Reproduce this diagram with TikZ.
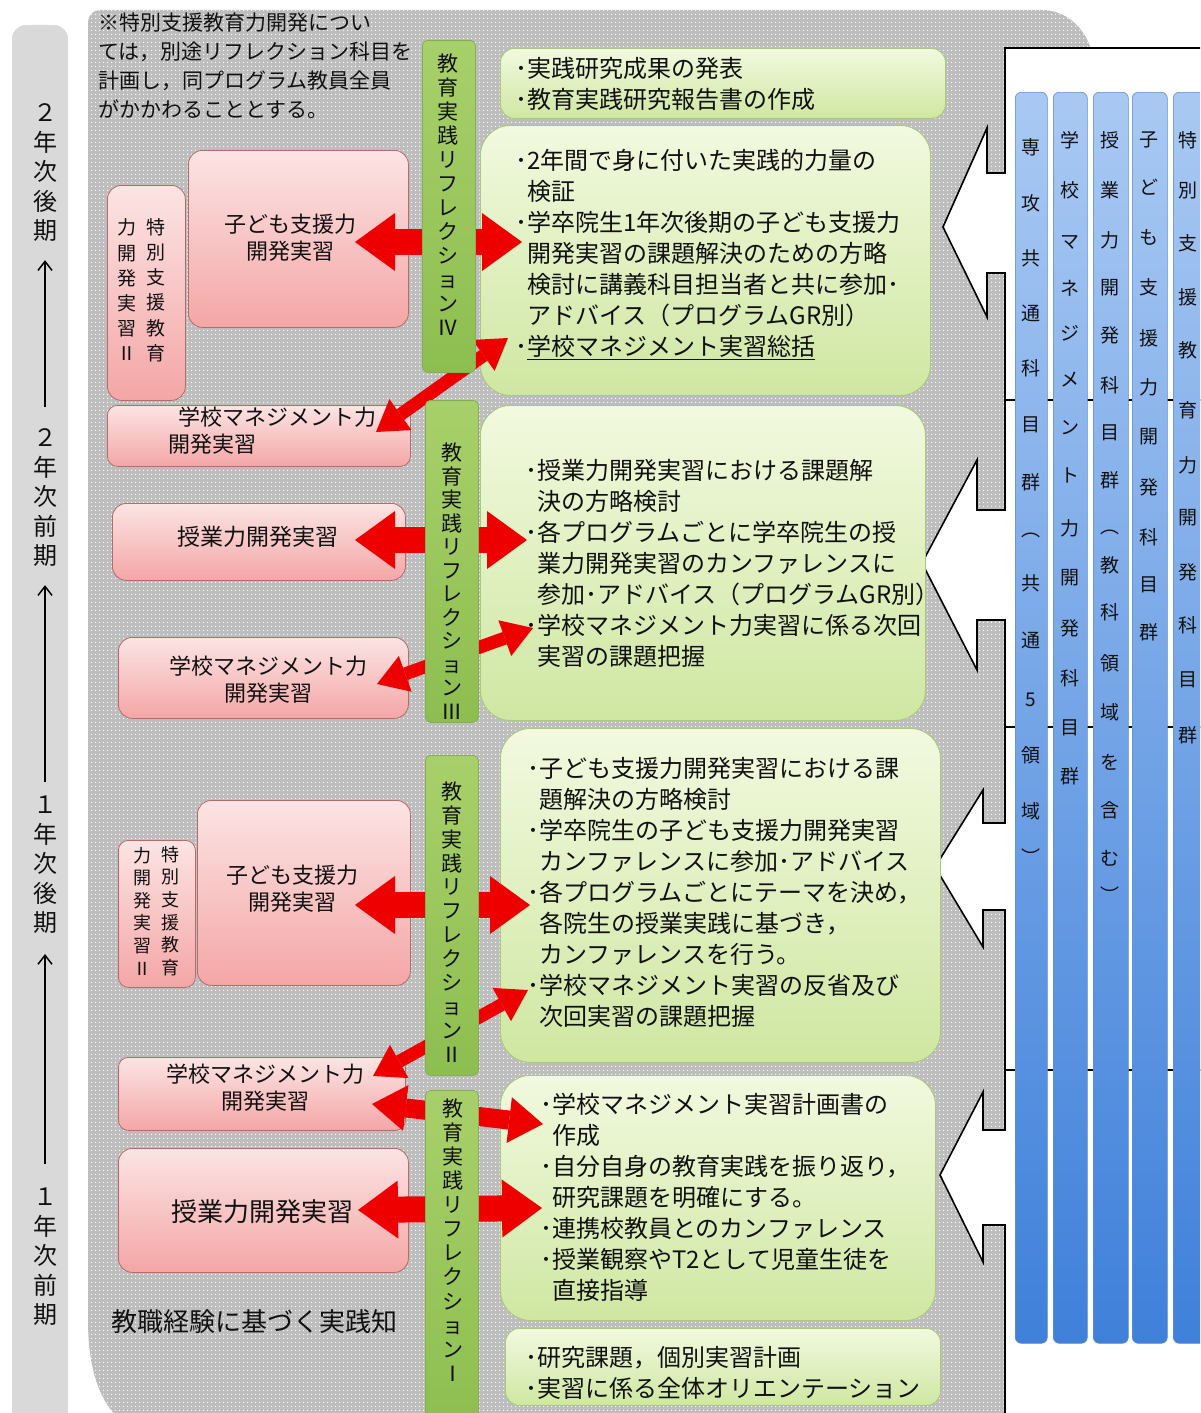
\documentclass[tikz,border=0pt]{standalone}
\usepackage{fontspec}
\setmainfont{Noto Sans CJK JP}
\usetikzlibrary{arrows.meta,patterns.meta}
\definecolor{regionGray}{HTML}{BDBDBD}
\definecolor{tlGray}{HTML}{D9D9D9}
\definecolor{pinkT}{HTML}{FCE4E4}
\definecolor{pinkB}{HTML}{F4A6A6}
\definecolor{pinkLine}{HTML}{B86A6A}
\definecolor{greenT}{HTML}{F2F9DF}
\definecolor{greenB}{HTML}{CFE7A2}
\definecolor{greenLine}{HTML}{A9C97C}
\definecolor{barT}{HTML}{A8D06A}
\definecolor{barM}{HTML}{D2EBA0}
\definecolor{barB}{HTML}{8DBE50}
\definecolor{barLine}{HTML}{86AE55}
\definecolor{blueT}{HTML}{A9C9F3}
\definecolor{blueB}{HTML}{3F80DA}
\definecolor{blueLine}{HTML}{5E8FD0}
\definecolor{arrowRed}{HTML}{EE0000}
\definecolor{txt}{HTML}{111111}
\newcommand\fsz[2]{\fontsize{#1}{#2}\selectfont}
\newcommand\ind{\hspace*{0.5em}}
\begin{document}
\begin{tikzpicture}[x=1pt,y=-1pt,
  pinkbox/.style={draw=pinkLine, line width=0.8pt, rounded corners=14pt, top color=pinkT, bottom color=pinkB, inner sep=0pt, anchor=north west},
  greenbox/.style={draw=greenLine, line width=0.9pt, rounded corners=30pt, top color=greenT, bottom color=greenB, inner sep=0pt, anchor=north west},
  smallgreen/.style={greenbox, rounded corners=14pt},
  reflbar/.style={draw=barLine, line width=0.8pt, rounded corners=5pt, top color=barT, middle color=barM, bottom color=barB, inner sep=0pt, anchor=north west, minimum width=53pt},
  bluecol/.style={draw=blueLine, line width=0.6pt, rounded corners=6pt, top color=blueT, bottom color=blueB, inner sep=0pt, anchor=north west, minimum height=1251pt},
  whiterow/.style={fill=white, draw=black, line width=1.6pt, line join=miter},
  gtext/.style={inner sep=0pt, anchor=north west, align=left, text=txt, font=\fsz{24}{31}},
  ptext/.style={inner sep=0pt, align=center, text=txt, font=\fsz{22}{27}},
  vtext/.style={inner sep=0pt, align=center, text=txt, font=\fsz{21}{24}},
  coltext/.style={inner sep=0pt, text=txt, font=\fsz{19}{19}},
  tltext/.style={inner sep=0pt, align=center, text=txt, font=\fsz{24}{29.5}},
  tlarrow/.style={draw=black, line width=1.5pt, -{Straight Barb[length=9pt,width=14pt,line width=1.5pt]}},
  bigarr/.style={draw=arrowRed, line width=26pt, {Triangle[width=58pt,length=40pt,line width=0pt]}-{Triangle[width=58pt,length=40pt,line width=0pt]}},
  midarr/.style={draw=arrowRed, line width=19pt, {Triangle[width=46pt,length=34pt,line width=0pt]}-{Triangle[width=46pt,length=34pt,line width=0pt]}},
  smallarr/.style={draw=arrowRed, line width=13pt, {Triangle[width=38pt,length=30pt,line width=0pt]}-{Triangle[width=38pt,length=30pt,line width=0pt]}}
]
\useasboundingbox (0,0) rectangle (1200,1413);
\clip (0,0) rectangle (1200,1413);
\fill[white] (0,0) rectangle (1200,1413);

% grey dotted region
\fill[regionGray, postaction={pattern={Dots[distance=4pt,radius=0.85pt]}, pattern color=white}]
  (180,1440) .. controls (115,1440) and (88,1395) .. (88,1320)
  [rounded corners=12pt] -- (88,10) -- (1030,10) [sharp corners]
  .. controls (1070,10) and (1095,35) .. (1095,75) -- (1095,1440) -- cycle;

% timeline bar
\fill[tlGray, rounded corners=14pt] (12,1440) rectangle (68,25);
\node[tltext] (y2b) at (45,173) {２\\年\\次\\後\\期};
\node[tltext] (y2f) at (45,498) {２\\年\\次\\前\\期};
\node[tltext] (y1b) at (45,865) {１\\年\\次\\後\\期};
\node[tltext] (y1f) at (45,1257) {１\\年\\次\\前\\期};
\draw[tlarrow, shorten <=22pt, shorten >=18pt] (y2f.north) -- (y2b.south);
\draw[tlarrow, shorten <=14pt, shorten >=18pt] (y1b.north) -- (y2f.south);
\draw[tlarrow, shorten <=24pt, shorten >=20pt] (y1f.north) -- (y1b.south);

% note
\node[inner sep=0pt, anchor=north west, align=left, text=txt, font=\fsz{21}{29}] (note) at (98,13)
  {※特別支援教育力開発につい\\ては，別途リフレクション科目を\\計画し，同プログラム教員全員\\がかかわることとする。};

% white rows with arrows
\draw[whiterow] (1005,48) -- (1220,48) -- (1220,400) -- (1005,400) -- (1005,273) -- (987,273) -- (987,317) -- (943,227) -- (987,128) -- (987,173) -- (1005,173) -- cycle;
\draw[whiterow] (1005,400) -- (1220,400) -- (1220,727) -- (1005,727) -- (1005,620) -- (977,620) -- (977,670) -- (922,563) -- (977,460) -- (977,510) -- (1005,510) -- cycle;
\draw[whiterow] (1005,727) -- (1220,727) -- (1220,1070) -- (1005,1070) -- (1005,910) -- (983,910) -- (983,947) -- (935,867) -- (983,790) -- (983,823) -- (1005,823) -- cycle;
\draw[whiterow] (1005,1070) -- (1220,1070) -- (1220,1440) -- (1005,1440) -- (1005,1225) -- (983,1225) -- (983,1262) -- (940,1175) -- (983,1092) -- (983,1130) -- (1005,1130) -- cycle;

% blue columns
\node[bluecol, minimum width=32pt] (col1) at (1015,92) {};
\node[bluecol, minimum width=34pt] (col2) at (1053,92) {};
\node[bluecol, minimum width=35pt] (col3) at (1093,92) {};
\node[bluecol, minimum width=35pt] (col4) at (1132,92) {};
\node[bluecol, minimum width=40pt] (col5) at (1173,92) {};
\foreach \c/\y [count=\i] in {専/147,攻/203,共/258,通/313,科/368,目/425,群/482,︵/535,共/583,通/640,5/700,領/755,域/811,︶/857}
  \node[coltext] (cA\i) at (1031,\y) {\c};
\foreach \c/\y [count=\i] in {学/140,校/190,マ/242,ネ/288,ジ/333,メ/380,ン/428,ト/475,力/528,開/578,発/628,科/678,目/728,群/776}
  \node[coltext] (cB\i) at (1070,\y) {\c};
\foreach \c/\y [count=\i] in {授/140,業/190,力/240,開/288,発/335,科/385,目/433,群/480,︵/532,教/565,科/612,領/663,域/712,を/762,含/810,む/858,︶/895}
  \node[coltext] (cC\i) at (1110,\y) {\c};
\foreach \c/\y [count=\i] in {子/140,ど/187,も/237,支/287,援/338,力/387,開/437,発/487,科/537,目/585,群/632}
  \node[coltext] (cD\i) at (1149,\y) {\c};
\foreach \c/\y [count=\i] in {特/140,別/190,支/243,援/297,教/350,育/410,力/465,開/518,発/572,科/625,目/680,群/735}
  \node[coltext] (cE\i) at (1188,\y) {\c};

% pink boxes
\node[pinkbox, minimum width=78pt, minimum height=215pt] (tok4) at (107,185) {};
\node[pinkbox, minimum width=220pt, minimum height=177pt] (kod4) at (188,150) {};
\node[pinkbox, minimum width=303pt, minimum height=61pt, rounded corners=10pt] (gak4) at (107,405) {};
\node[pinkbox, minimum width=293pt, minimum height=77pt] (jug3) at (112,503) {};
\node[pinkbox, minimum width=290pt, minimum height=81pt] (gak3) at (118,637) {};
\node[pinkbox, minimum width=77pt, minimum height=147pt, rounded corners=10pt] (tok2) at (118,840) {};
\node[pinkbox, minimum width=213pt, minimum height=185pt] (kod2) at (197,800) {};
\node[pinkbox, minimum width=287pt, minimum height=73pt, rounded corners=10pt] (gak2) at (118,1057) {};
\node[pinkbox, minimum width=290pt, minimum height=124pt] (jug1) at (118,1148) {};

% green boxes
\node[smallgreen, minimum width=445pt, minimum height=70pt] (g5) at (500,48) {};
\node[greenbox, minimum width=450pt, minimum height=270pt] (g4) at (480,125) {};
\node[greenbox, minimum width=445pt, minimum height=315pt] (g3) at (480,405) {};
\node[greenbox, minimum width=440pt, minimum height=334pt] (g2) at (500,728) {};
\node[greenbox, minimum width=435pt, minimum height=245pt] (g1) at (500,1075) {};
\node[smallgreen, minimum width=435pt, minimum height=77pt] (g0) at (505,1328) {};

% red arrows
\coordinate (a1l) at (355,242); \coordinate (a1r) at (522,242);
\coordinate (a2l) at (376,432); \coordinate (a2r) at (508,338);
\coordinate (a3l) at (355,540); \coordinate (a3r) at (527,540);
\coordinate (a4l) at (377,684); \coordinate (a4r) at (533,628);
\coordinate (a5l) at (355,905); \coordinate (a5r) at (530,905);
\coordinate (a6l) at (373,1076); \coordinate (a6r) at (528,990);
\coordinate (a7l) at (372,1104); \coordinate (a7r) at (543,1124);
\coordinate (a8l) at (358,1210); \coordinate (a8r) at (542,1208);
\draw[bigarr] (a1l) -- (a1r);
\draw[smallarr] (a2l) -- (a2r);
\draw[bigarr] (a3l) -- (a3r);
\draw[smallarr] (a4l) -- (a4r);
\draw[bigarr] (a5l) -- (a5r);
\draw[smallarr] (a6l) -- (a6r);
\draw[midarr] (a7l) -- (a7r);
\draw[bigarr] (a8l) -- (a8r);

% reflection bars
\node[reflbar, minimum height=332pt] (bar4) at (422,40) {};
\node[reflbar, minimum height=322pt] (bar3) at (425,400) {};
\node[reflbar, minimum height=320pt] (bar2) at (425,755) {};
\node[reflbar, minimum height=340pt] (bar1) at (425,1090) {};
\node[vtext] (bt4) at (448,195) {教\\育\\実\\践\\リ\\フ\\レ\\ク\\シ\\ョ\\ン\\Ⅳ};
\node[vtext, font=\fsz{21}{23.5}] (bt3) at (452,581) {教\\育\\実\\践\\リ\\フ\\レ\\ク\\シ\\ョ\\ン\\Ⅲ};
\node[vtext, font=\fsz{21}{23.9}] (bt2) at (452,922) {教\\育\\実\\践\\リ\\フ\\レ\\ク\\シ\\ョ\\ン\\Ⅱ};
\node[vtext, font=\fsz{21}{24.1}] (bt1) at (453,1240) {教\\育\\実\\践\\リ\\フ\\レ\\ク\\シ\\ョ\\ン\\Ⅰ};

% pink texts
\node[vtext, font=\fsz{19}{25.2}] (tok4r) at (156,290) {特\\別\\支\\援\\教\\育};
\node[vtext, font=\fsz{19}{25.2}] (tok4l) at (127,290) {力\\開\\発\\実\\習\\Ⅱ};
\node[vtext, font=\fsz{18}{22.6}] (tok2r) at (170,911) {特\\別\\支\\援\\教\\育};
\node[vtext, font=\fsz{18}{22.6}] (tok2l) at (142,911) {力\\開\\発\\実\\習\\Ⅱ};
\node[ptext] (kod4t) at (290,238) {子ども支援力\\開発実習};
\node[ptext, align=left, anchor=north west] (gak4t) at (168,407) {\hspace*{10pt}学校マネジメント力\\開発実習};
\node[ptext, font=\fsz{23}{27}] (jug3t) at (258,537) {授業力開発実習};
\node[ptext] (gak3t) at (268,680) {学校マネジメント力\\開発実習};
\node[ptext] (kod2t) at (292,889) {子ども支援力\\開発実習};
\node[ptext] (gak2t) at (265,1088) {学校マネジメント力\\開発実習};
\node[ptext, font=\fsz{26}{30}] (jug1t) at (262,1212) {授業力開発実習};
\node[ptext, font=\fsz{26}{30}] (know) at (254,1322) {教職経験に基づく実践知};

% green texts
\node[gtext] (g5t) at (515,57) {･実践研究成果の発表\\･教育実践研究報告書の作成};
\node[gtext] (g4t) at (515,149) {･2年間で身に付いた実践的力量の\\\ind 検証\\･学卒院生1年次後期の子ども支援力\\\ind 開発実習の課題解決のための方略\\\ind 検討に講義科目担当者と共に参加･\\\ind アドバイス（プログラムGR別）\\･\underline{学校マネジメント実習総括}};
\node[gtext] (g3t) at (525,459) {･授業力開発実習における課題解\\\ind 決の方略検討\\･各プログラムごとに学卒院生の授\\\ind 業力開発実習のカンファレンスに\\\ind 参加･アドバイス（プログラムGR別）\\･学校マネジメント力実習に係る次回\\\ind 実習の課題把握};
\node[gtext] (g2t) at (527,757) {･子ども支援力開発実習における課\\\ind 題解決の方略検討\\･学卒院生の子ども支援力開発実習\\\ind カンファレンスに参加･アドバイス\\･各プログラムごとにテーマを決め，\\\ind 各院生の授業実践に基づき，\\\ind カンファレンスを行う。\\･学校マネジメント実習の反省及び\\\ind 次回実習の課題把握};
\node[gtext] (g1t) at (540,1093) {･学校マネジメント実習計画書の\\\ind 作成\\･自分自身の教育実践を振り返り，\\\ind 研究課題を明確にする。\\･連携校教員とのカンファレンス\\･授業観察やT2として児童生徒を\\\ind 直接指導};
\node[gtext] (g0t) at (525,1346) {･研究課題，個別実習計画\\･実習に係る全体オリエンテーション};
\end{tikzpicture}
\end{document}
